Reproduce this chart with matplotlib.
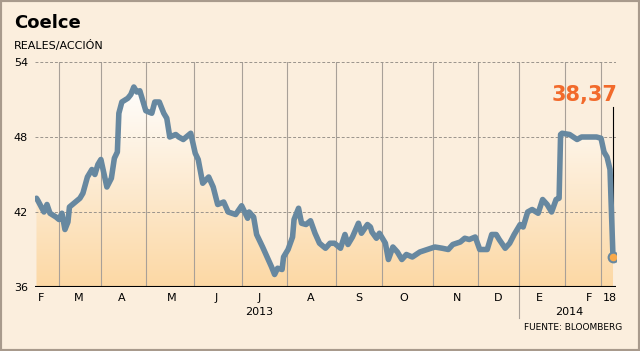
import numpy as np
import matplotlib
matplotlib.use('Agg')
from matplotlib import pyplot as plt
from matplotlib.colors import LinearSegmentedColormap
from matplotlib.patches import Rectangle
import matplotlib.transforms as mtransforms

# dias desde el inicio de la serie (feb 2013 -> 18 feb 2014)
dias = [0, 1, 5, 7, 9, 13, 15, 17, 19, 21, 22, 26, 29, 31, 34, 37, 39, 41, 43, 45,
        47, 50, 52, 54, 55, 57, 61, 63, 65, 67, 69, 73, 77, 79, 82, 85, 87, 89, 93, 95,
        98, 103, 106, 108, 111, 115, 118, 121, 125, 128, 133, 137, 141, 142, 145, 147, 151, 154, 157, 159,
        161, 164, 165, 168, 171, 172, 175, 177, 180, 183, 186, 189, 193, 196, 199, 203, 206, 208, 211, 215,
        217, 221, 223, 224, 227, 229, 233, 235, 238, 241, 244, 247, 251, 256, 261, 266, 271, 275, 278, 283,
        286, 289, 293, 296, 301, 304, 307, 309, 313, 316, 319, 323, 325, 328, 331, 335, 338, 341, 344, 347,
        349, 350, 351, 356, 361, 364, 369, 374, 377, 379, 381, 383, 385]
precio = [43.1, 42.9, 42.0, 42.6, 41.9, 41.6, 41.4, 41.9, 40.6, 41.2, 42.4, 42.8, 43.1, 43.5, 44.8, 45.4, 45.0, 45.8, 46.2, 45.1,
          44.0, 44.7, 46.3, 46.8, 49.9, 50.8, 51.1, 51.4, 52.0, 51.6, 51.7, 50.1, 49.9, 50.8, 50.8, 49.9, 49.5, 48.0, 48.2, 48.0,
          47.8, 48.3, 46.7, 46.2, 44.3, 44.8, 44.0, 42.6, 42.8, 42.0, 41.8, 42.5, 41.5, 42.0, 41.6, 40.2, 39.2, 38.4, 37.6, 37.0,
          37.5, 37.4, 38.4, 39.0, 40.0, 41.4, 42.3, 41.1, 41.0, 41.3, 40.3, 39.5, 39.1, 39.5, 39.5, 39.1, 40.2, 39.4, 40.0, 41.1,
          40.3, 41.0, 40.8, 40.4, 39.9, 40.3, 39.5, 38.2, 39.2, 38.8, 38.2, 38.6, 38.4, 38.8, 39.0, 39.2, 39.1, 39.0, 39.4, 39.6,
          39.9, 39.8, 40.0, 39.0, 39.0, 40.2, 40.2, 39.8, 39.1, 39.5, 40.2, 41.0, 40.8, 42.0, 42.2, 41.9, 43.0, 42.6, 42.0, 43.0,
          43.1, 48.2, 48.3, 48.2, 47.8, 48.0, 48.0, 48.0, 47.9, 46.8, 46.4, 45.4, 38.37]

ultimo = '38,37'

# limites de mes (lineas verticales) y etiquetas
limites_mes = [15, 43, 73, 105, 137, 167, 200, 231, 265, 295, 322, 353, 377]
meses = ['F', 'M', 'A', 'M', 'J', 'J', 'A', 'S', 'O', 'N', 'D', 'E', 'F', '18']
pos_meses = [3, 28, 57, 90, 120, 149, 183, 215, 245, 281, 308, 336, 369, 383]
anios = ['2013', '2014']
pos_anios = [149, 356]
corte_anio = 322
yticks = [36, 42, 48, 54]

fondo = '#FBEEDD'
azul = '#6788A0'
naranja = '#F26A2B'

fig = plt.figure(figsize=(6.4, 3.51), dpi=100)
fig.patch.set_facecolor(fondo)
ax = fig.add_axes([35 / 640, 64 / 351, 581 / 640, 225 / 351])
ax.set_facecolor(fondo)

# relleno degradado bajo la linea
poly = ax.fill_between(dias, precio, 36, color='none', lw=0)
grad = np.linspace(0, 1, 256).reshape(-1, 1)
cmap = LinearSegmentedColormap.from_list('g', ['#FCD8A4', '#FDEBD2', '#FFFFFF'])
im = ax.imshow(grad, extent=[0, 387, 36, 52.5], origin='lower', aspect='auto',
               cmap=cmap, zorder=1)
im.set_clip_path(poly.get_paths()[0], ax.transData)

for x in limites_mes:
    ax.axvline(x, color='#A8A098', lw=0.8, zorder=2)
for y in yticks[1:]:
    ax.axhline(y, color='#9A948C', lw=0.7, dashes=(3, 2), zorder=2)
ax.axhline(36, color='black', lw=1.5, zorder=4)

ax.plot(dias, precio, color=azul, lw=4, solid_joinstyle='round',
        solid_capstyle='round', zorder=5)
ax.plot(dias[-1], precio[-1], 'o', ms=7, mfc='#F7A94B', mec=azul, mew=1.5, zorder=6)

# etiqueta del ultimo valor
ax.plot([dias[-1], dias[-1]], [50.4, precio[-1]], color='black', lw=0.8, zorder=4, clip_on=False)
ax.text(388, 50.6, ultimo, color=naranja, fontsize=15, fontweight='bold',
        ha='right', va='bottom', zorder=6)

ax.set_xlim(-1, 387)
ax.set_ylim(36, 54)
ax.set_xticks([])
ax.set_yticks(yticks)
ax.set_yticklabels([str(v) for v in yticks], fontsize=8)
ax.tick_params(axis='y', length=0, pad=5)
for s in ax.spines.values():
    s.set_visible(False)

trans = mtransforms.blended_transform_factory(ax.transData, fig.transFigure)
for m, p in zip(meses, pos_meses):
    ax.text(p, (351 - 298) / 351, m, transform=trans, fontsize=8,
            ha='center', va='center', clip_on=False)
for a, p in zip(anios, pos_anios):
    ax.text(p, (351 - 312) / 351, a, transform=trans, fontsize=8,
            ha='center', va='center', clip_on=False)
ax.plot([corte_anio, corte_anio], [(351 - 287) / 351, (351 - 318) / 351], transform=trans,
        color='#A8A098', lw=0.8, clip_on=False)

fig.text(0.022, (351 - 23) / 351, 'Coelce', fontsize=13, fontweight='bold', va='center')
fig.text(0.022, (351 - 46) / 351, 'REALES/ACCIÓN', fontsize=8, va='center')
fig.text(622 / 640, (351 - 328) / 351, 'FUENTE: BLOOMBERG', fontsize=6.5, ha='right', va='center')

fig.patches.append(Rectangle((0, 0), 1, 1, transform=fig.transFigure, fill=False,
                             edgecolor='#A89A8C', lw=3))

plt.savefig('out.png', dpi=100, facecolor=fondo)
